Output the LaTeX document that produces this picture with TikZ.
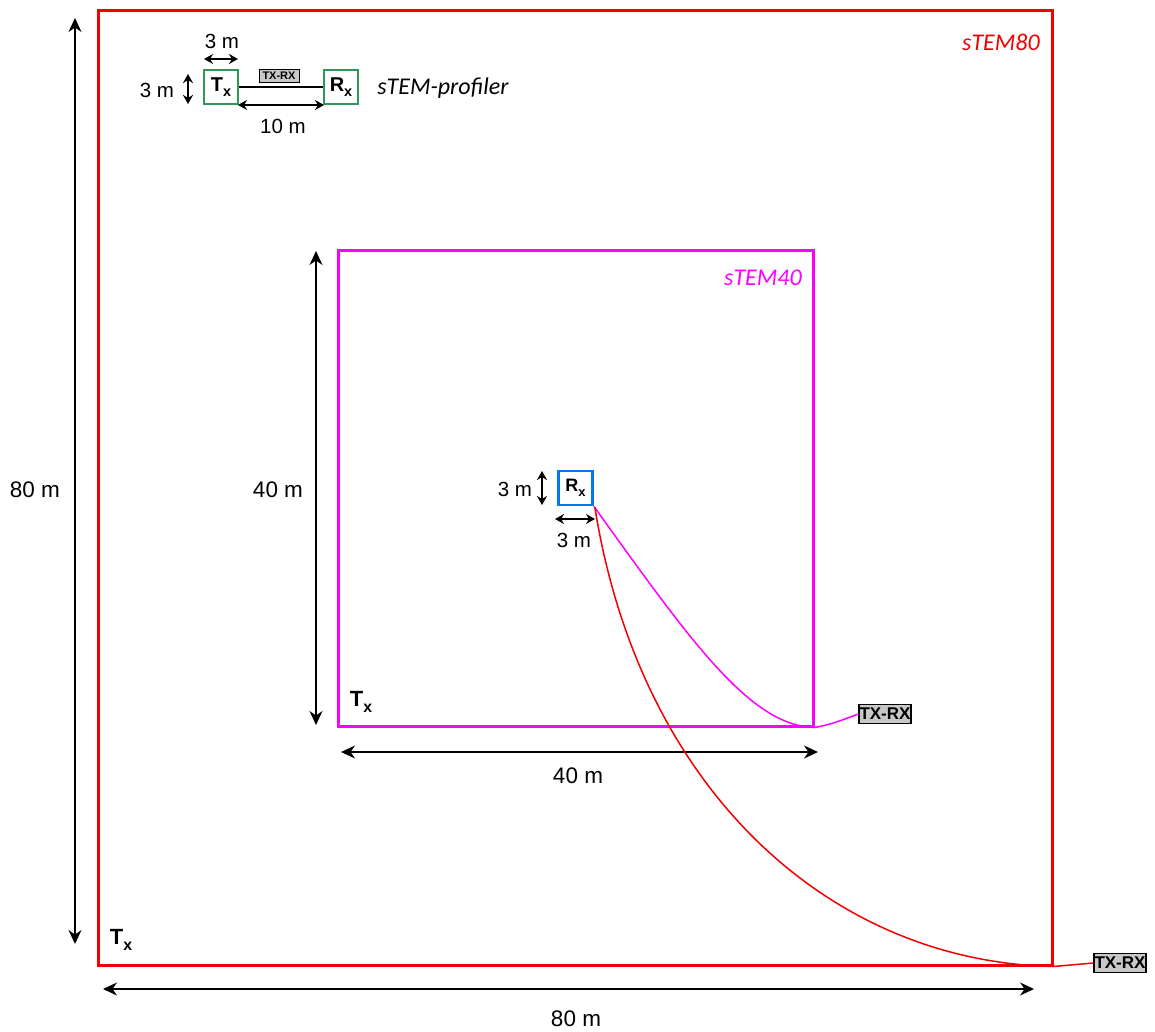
\documentclass[tikz,border=0pt]{standalone}
\usepackage{fontspec}
\setmainfont{Liberation Sans}
\newfontfamily\calib{Carlito}
\usetikzlibrary{arrows.meta}
\definecolor{myred}{RGB}{240,0,0}
\definecolor{mymag}{RGB}{255,0,255}
\definecolor{myblue}{RGB}{0,120,240}
\definecolor{mygreen}{RGB}{48,150,90}
\definecolor{labgray}{RGB}{200,200,200}
\newcommand{\lowx}{\raisebox{-0.26em}{\scalebox{0.72}{x}}}
\begin{document}
\begin{tikzpicture}[x=1pt,y=-1pt,
  dimarrow/.style={{Stealth[length=14pt,width=13pt]}-{Stealth[length=14pt,width=13pt]}, line width=1.8pt},
  smallarrow/.style={{Stealth[length=9pt,width=10pt]}-{Stealth[length=9pt,width=10pt]}, line width=1.5pt},
  dimlab/.style={font=\fontsize{22.5}{26}\selectfont, inner sep=0pt},
  smlab/.style={font=\fontsize{20.5}{24}\selectfont, inner sep=0pt},
  txlab/.style={font=\bfseries\fontsize{22}{26}\selectfont, inner sep=0pt},
  trx/.style={draw=black, fill=labgray, font=\bfseries\fontsize{17}{20}\selectfont, inner sep=0pt, line width=1.2pt, minimum width=52pt, minimum height=19pt},
  field/.style={draw, inner sep=0pt, line width=3pt},
  coil/.style={draw, inner sep=0pt, line width=2.7pt, minimum size=34pt, font=\bfseries\fontsize{20}{24}\selectfont},
  fieldname/.style={font=\calib\itshape\fontsize{24}{28}\selectfont, inner sep=0pt}
]
\useasboundingbox (0,0) rectangle (1155,1032);

% sTEM80 loop
\node[field, draw=myred, minimum width=954pt, minimum height=954pt] (big) at (575,488) {};
\node[fieldname, text=myred] (lab80) at (1001,42) {sTEM80};
\node[txlab] (tx80) at (121,940) {T\lowx};
\coordinate (v80a) at (75,18);
\coordinate (v80b) at (75,944);
\draw[dimarrow] (v80a) -- (v80b);
\node[dimlab] (l80v) at (35,490) {80 m};
\coordinate (h80a) at (103,989);
\coordinate (h80b) at (1034,989);
\draw[dimarrow] (h80a) -- (h80b);
\node[dimlab] (l80h) at (576,1019) {80 m};

% sTEM40 loop
\node[field, draw=mymag, minimum width=475pt, minimum height=476pt] (mid) at (575.5,488) {};
\node[fieldname, text=mymag] (lab40) at (763,278) {sTEM40};
\node[txlab] (tx40) at (361,702) {T\lowx};
\coordinate (v40a) at (316,251);
\coordinate (v40b) at (316,725);
\draw[dimarrow] (v40a) -- (v40b);
\node[dimlab] (l40v) at (278,490) {40 m};
\coordinate (h40a) at (341,752);
\coordinate (h40b) at (818,752);
\draw[dimarrow] (h40a) -- (h40b);
\node[dimlab] (l40h) at (578,776) {40 m};

% central receiver
\node[coil, draw=myblue, font=\bfseries\fontsize{18}{22}\selectfont] (rx) at (575.5,488) {R\lowx};
\coordinate (rv1) at (542,471);
\coordinate (rv2) at (542,505);
\draw[smallarrow] (rv1) -- (rv2);
\node[smlab] (r3v) at (515,489) {3 m};
\coordinate (rh1) at (555,519);
\coordinate (rh2) at (595,519);
\draw[smallarrow] (rh1) -- (rh2);
\node[smlab] (r3h) at (574,540) {3 m};

% TX-RX connectors
\node[trx] (trx40) at (885,714) {TX-RX};
\node[trx] (trx80) at (1120,963) {TX-RX};
\draw[mymag, line width=1.5pt] (rx.south east) .. controls (690,640) and (750,726) .. (mid.south east)
   .. controls (830,725) and (845,719) .. (trx40.west);
\draw[myred, line width=1.5pt] ([xshift=1pt,yshift=-1pt]rx.south east) .. controls (640,790) and (830,962) .. (big.south east)
   -- (trx80.west);

% sTEM-profiler
\node[coil, draw=mygreen] (ptx) at (221,87) {T\lowx};
\node[coil, draw=mygreen] (prx) at (341,87) {R\lowx};
\draw[line width=2.2pt] (ptx.east) -- (prx.west);
\node[trx, font=\bfseries\fontsize{11}{13}\selectfont, minimum width=40pt, minimum height=13pt, line width=1pt] (ptrx) at (279,76) {TX-RX};
\coordinate (p10a) at (238,105);
\coordinate (p10b) at (324,105);
\draw[smallarrow] (p10a) -- (p10b);
\node[smlab] (l10) at (283,126) {10 m};
\coordinate (p3a) at (204,59);
\coordinate (p3b) at (238,59);
\draw[smallarrow] (p3a) -- (p3b);
\node[smlab] (l3t) at (222,41) {3 m};
\coordinate (p3c) at (188,74);
\coordinate (p3d) at (188,104);
\draw[smallarrow] (p3c) -- (p3d);
\node[smlab] (l3l) at (157,90) {3 m};
\node[fieldname] (lprof) at (443,88) {sTEM-profiler};
\end{tikzpicture}
\end{document}
